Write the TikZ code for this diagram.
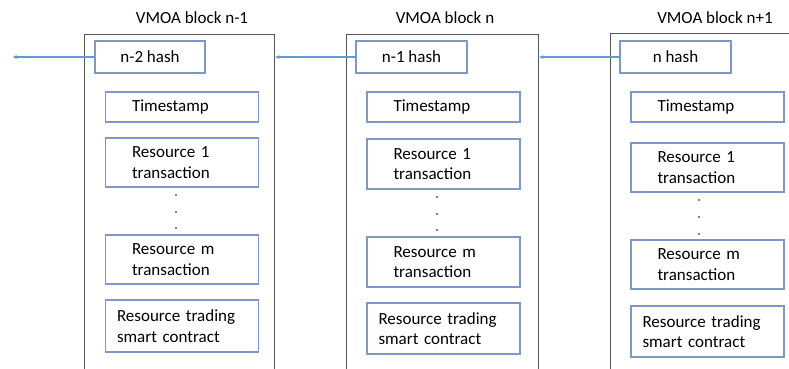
\documentclass[tikz,border=0pt]{standalone}
\usepackage{fontspec}
\setmainfont{Carlito}
\usetikzlibrary{arrows.meta}

\definecolor{boxblue}{RGB}{125,152,198}
\definecolor{linkblue}{RGB}{98,154,212}
\definecolor{blockgray}{RGB}{85,85,85}

\tikzset{
  blockbox/.style={draw=blockgray, line width=1.4pt, minimum width=190pt, minimum height=370pt, anchor=north west, inner sep=0pt},
  hashbox/.style={draw=boxblue, line width=1.1pt, minimum width=110pt, minimum height=32pt, inner sep=0pt},
  entry/.style={draw=boxblue, line width=1.1pt, minimum width=153pt, minimum height=30pt, inner xsep=0pt, text width=100pt, align=left},
  wide/.style={text width=130pt},
  title/.style={inner sep=0pt},
  link/.style={draw=linkblue, line width=1.5pt, -{Stealth[length=4pt,width=4pt]}}
}

\begin{document}
\begin{tikzpicture}[x=1pt, y=-1pt, font=\fontsize{17}{20.5}\selectfont]

\useasboundingbox (0,0) rectangle (789,369);
\clip (0,0) rectangle (789,369);

% block n-1
\node[title] (t1) at (192,18) {VMOA block n-1};
\node[blockbox] (b1) at (84,34) {};
\node[hashbox] (h1) at (150,57) {n-2 hash};
\node[entry] (ts1) at (182,107) {Timestamp};
\node[entry, minimum height=49pt] (ra1) at (182,162.5) {Resource 1\\transaction};
\node[entry, minimum height=49pt] (rm1) at (182,259.5) {Resource m\\transaction};
\node[entry, wide, minimum height=52pt] (sc1) at (182,326) {Resource trading\\smart contract};
\foreach \y in {195,212,228} \fill (176,\y) circle (0.8pt);

% block n
\node[title] (t2) at (445,18) {VMOA block n};
\node[blockbox, minimum width=192pt] (b2) at (346,34) {};
\node[hashbox, minimum width=111pt] (h2) at (411.5,57) {n-1 hash};
\node[entry] (ts2) at (443.5,107) {Timestamp};
\node[entry, minimum height=50pt] (ra2) at (443.5,164) {Resource 1\\transaction};
\node[entry, minimum height=50pt] (rm2) at (443.5,262) {Resource m\\transaction};
\node[entry, wide, minimum height=51pt] (sc2) at (443.5,328.5) {Resource trading\\smart contract};
\foreach \y in {197,214,230} \fill (437,\y) circle (0.8pt);

% block n+1
\node[title] (t3) at (715,18) {VMOA block n+1};
\node[blockbox] (b3) at (610,33) {};
\node[hashbox, minimum width=111pt] (h3) at (675.5,57) {n hash};
\node[entry] (ts3) at (707.5,107) {Timestamp};
\node[entry, minimum height=49pt] (ra3) at (707.5,167.5) {Resource 1\\transaction};
\node[entry, minimum height=49pt] (rm3) at (707.5,264.5) {Resource m\\transaction};
\node[entry, wide, minimum height=51pt] (sc3) at (707.5,331.5) {Resource trading\\smart contract};
\foreach \y in {200,217,234} \fill (699,\y) circle (0.8pt);

% hash links
\coordinate (prev) at (13,57);
\draw[link] (h1.west) -- (prev);
\draw[link] (h2.west) -- (h2.west -| b1.east);
\draw[link] (h3.west) -- (h3.west -| b2.east);

\end{tikzpicture}
\end{document}
